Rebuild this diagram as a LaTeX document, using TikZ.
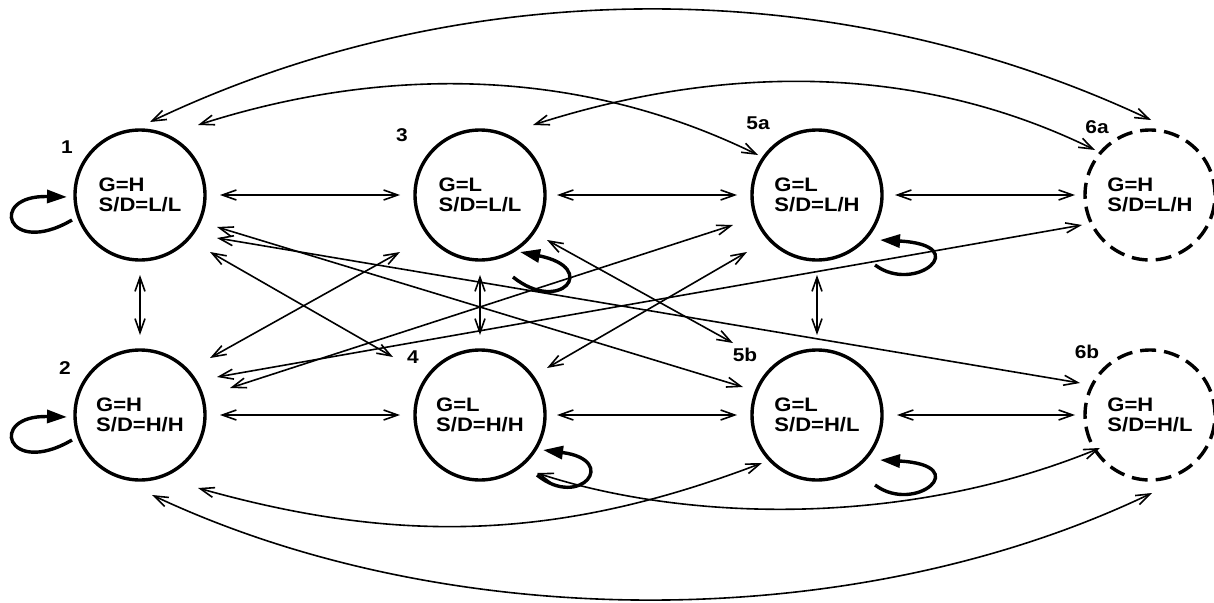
\documentclass[tikz,border=0pt]{standalone}
\usepackage{fontspec}
\newfontfamily\hb{Liberation Sans}[FakeStretch=1.13]
\usetikzlibrary{arrows.meta}
\tikzset{
  state/.style={circle, draw, line width=3.4pt, minimum size=130pt, inner sep=0pt,
    align=left, font=\hb\bfseries\fontsize{19.5}{20.5}\selectfont},
  dstate/.style={state, dash pattern=on 16pt off 8pt},
  lbl/.style={font=\hb\bfseries\fontsize{18.5}{20}\selectfont, inner sep=0pt},
  conn/.style={line width=1.6pt, {Straight Barb[length=14pt,width=10pt]}-{Straight Barb[length=14pt,width=10pt]}},
  selfloop/.style={line width=3.4pt, -{Triangle[length=20pt,width=13pt]}},
}
\begin{document}
\begin{tikzpicture}[x=1pt,y=-1pt]
\useasboundingbox (0,0) rectangle (1214,602);
% states
\node[state]  (n1)  at (140,195)  {G=H\\S/D=L/L};
\node[state]  (n3)  at (480,195)  {G=L\\S/D=L/L};
\node[state]  (n5a) at (817,195)  {G=L\\S/D=L/H};
\node[dstate] (n6a) at (1150,195) {G=H\\S/D=L/H};
\node[state]  (n2)  at (140,415)  {G=H\\S/D=H/H};
\node[state]  (n4)  at (480,415)  {G=L\\S/D=H/H};
\node[state]  (n5b) at (817,415)  {G=L\\S/D=H/L};
\node[dstate] (n6b) at (1150,415) {G=H\\S/D=H/L};
% labels
\node[lbl] (l1)  at (67,147)   {1};
\node[lbl] (l2)  at (65,368)   {2};
\node[lbl] (l3)  at (402,135)  {3};
\node[lbl] (l4)  at (413,357)  {4};
\node[lbl] (l5a) at (758,123)  {5a};
\node[lbl] (l5b) at (745,355)  {5b};
\node[lbl] (l6a) at (1097,127) {6a};
\node[lbl] (l6b) at (1087,352) {6b};
% horizontal
\draw[conn] ([shift={(80,0)}]n1.center) -- ([shift={(-80,0)}]n3.center);
\draw[conn] ([shift={(77,0)}]n3.center) -- ([shift={(-80,0)}]n5a.center);
\draw[conn] ([shift={(78,0)}]n5a.center) -- ([shift={(-75,0)}]n6a.center);
\draw[conn] ([shift={(80,0)}]n2.center) -- ([shift={(-80,0)}]n4.center);
\draw[conn] ([shift={(77,0)}]n4.center) -- ([shift={(-80,0)}]n5b.center);
\draw[conn] ([shift={(80,0)}]n5b.center) -- ([shift={(-75,0)}]n6b.center);
% vertical
\draw[conn] ([shift={(0,80)}]n1.center) -- ([shift={(0,-80)}]n2.center);
\draw[conn] ([shift={(0,80)}]n3.center) -- ([shift={(0,-80)}]n4.center);
\draw[conn] ([shift={(0,80)}]n5a.center) -- ([shift={(0,-80)}]n5b.center);
% diagonals
\draw[conn] ([shift={(70,57)}]n1.center) -- ([shift={(-87,-58)}]n4.center);
\draw[conn] ([shift={(70,-57)}]n2.center) -- ([shift={(-80,57)}]n3.center);
\draw[conn] ([shift={(77,32)}]n1.center) -- ([shift={(-74,-28)}]n5b.center);
\draw[conn] ([shift={(77,43)}]n1.center) -- ([shift={(-70,-32)}]n6b.center);
\draw[conn] ([shift={(90,-27)}]n2.center) -- ([shift={(-84,30)}]n5a.center);
\draw[conn] ([shift={(77,-38)}]n2.center) -- ([shift={(-68,30)}]n6a.center);
\draw[conn] ([shift={(67,45)}]n3.center) -- ([shift={(-84,-72)}]n5b.center);
\draw[conn] ([shift={(67,-47)}]n4.center) -- ([shift={(-70,57)}]n5a.center);
% curves
\draw[conn] ([shift={(10,-73)}]n1.center) .. controls +(315,-150) and +(-315,-148) .. ([shift={(1,-75)}]n6a.center);
\draw[conn] ([shift={(58,-70)}]n1.center) .. controls +(162,-52) and +(-198,-97) .. ([shift={(-59,-40)}]n5a.center);
\draw[conn] ([shift={(53,-70)}]n3.center) .. controls +(162,-52) and +(-198,-97) .. ([shift={(-55,-45)}]n6a.center);
\draw[conn] ([shift={(12,80)}]n2.center) .. controls +(298,140) and +(-297,142) .. ([shift={(2,78)}]n6b.center);
\draw[conn] ([shift={(58,73)}]n2.center) .. controls +(202,57) and +(-202,77) .. ([shift={(-55,48)}]n5b.center);
\draw[conn] ([shift={(57,58)}]n4.center) .. controls +(143,47) and +(-200,82) .. ([shift={(-50,33)}]n6b.center);
% self loops
\draw[selfloop] ([shift={(-68,25)}]n1.center) .. controls +(-65,38) and +(-80,-2) .. ([shift={(-73,2)}]n1.center);
\draw[selfloop] ([shift={(-68,25)}]n2.center) .. controls +(-65,38) and +(-80,-2) .. ([shift={(-73,2)}]n2.center);
\draw[selfloop] ([shift={(33,82)}]n3.center) .. controls +(47,38) and +(80,16) .. ([shift={(40,57)}]n3.center);
\draw[selfloop] ([shift={(57,60)}]n4.center) .. controls +(43,35) and +(77,10) .. ([shift={(63,35)}]n4.center);
\draw[selfloop] ([shift={(58,70)}]n5a.center) .. controls +(40,30) and +(95,5) .. ([shift={(63,45)}]n5a.center);
\draw[selfloop] ([shift={(58,70)}]n5b.center) .. controls +(40,30) and +(95,5) .. ([shift={(63,45)}]n5b.center);
\end{tikzpicture}
\end{document}
